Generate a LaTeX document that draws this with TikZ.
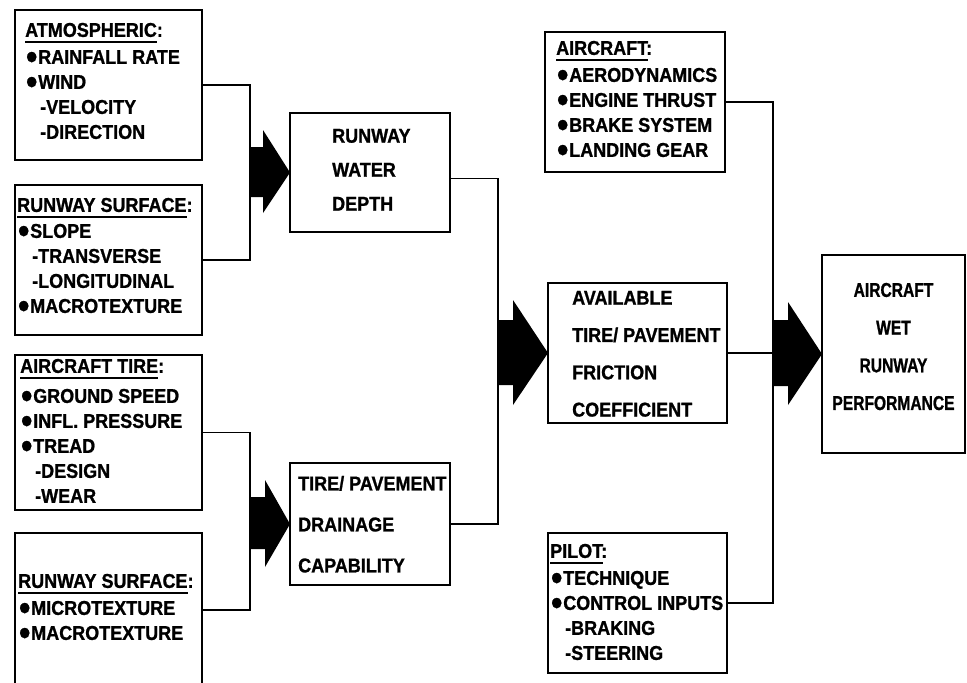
\documentclass[tikz,border=0pt]{standalone}
\usepackage{fontspec}
\setmainfont{Liberation Sans}[FakeStretch=0.9, BoldFeatures={FakeBold=1}]
\newfontfamily\narrowfont{Liberation Sans}[FakeStretch=0.78, BoldFeatures={FakeBold=1}]
\newlength\hdrlen
\newcommand\hdr[1]{\settowidth\hdrlen{#1}\rlap{\rule[-6pt]{\hdrlen}{2.2pt}}#1}
\newcommand\bul{{\fontsize{24}{25}\selectfont●}}
\newcommand\subitm{\hspace*{15pt}-}
\begin{document}
\begin{tikzpicture}[x=1pt,y=-1pt,
  box/.style={draw, line width=2.4pt, inner sep=0, outer sep=0, anchor=north west},
  txt/.style={anchor=north west, inner sep=0, align=left, font=\bfseries\fontsize{20}{25}\selectfont},
  link/.style={line width=1.8pt},
  blk/.style={fill=black}]
\useasboundingbox (0,0) rectangle (967,683);
\clip (0,0) rectangle (967,683);
% boxes
\node[box, minimum width=187pt, minimum height=150pt] (atm) at (15,10) {};
\node[box, minimum width=187pt, minimum height=150pt] (rs1) at (15,185) {};
\node[box, minimum width=187pt, minimum height=155pt] (tire) at (15,355) {};
\node[box, minimum width=187pt, minimum height=154pt] (rs2) at (15,533) {};
\node[box, minimum width=160pt, minimum height=119pt] (rwd) at (290,113) {};
\node[box, minimum width=160pt, minimum height=122pt] (drn) at (290,463) {};
\node[box, minimum width=179pt, minimum height=140pt] (avl) at (548,283) {};
\node[box, minimum width=180pt, minimum height=140pt] (acf) at (545,32) {};
\node[box, minimum width=179pt, minimum height=140pt] (plt) at (548,533) {};
\node[box, minimum width=143pt, minimum height=198pt] (perf) at (822,255) {};
% texts
\node[txt] (tatm) at (25,22.7) {\hdr{ATMOSPHERIC}:\\[2pt]\bul RAINFALL RATE\\\bul WIND\\\subitm VELOCITY\\\subitm DIRECTION};
\node[txt] (trs1) at (17,197.7) {\hdr{RUNWAY SURFACE}:\\[1pt]\bul SLOPE\\\subitm TRANSVERSE\\\subitm LONGITUDINAL\\\bul MACROTEXTURE};
\node[txt] (ttire) at (20,358.7) {\hdr{AIRCRAFT TIRE}:\\[5pt]\bul GROUND SPEED\\\bul INFL. PRESSURE\\\bul TREAD\\\subitm DESIGN\\\subitm WEAR};
\node[txt] (trs2) at (18,573.7) {\hdr{RUNWAY SURFACE}:\\[2pt]\bul MICROTEXTURE\\\bul MACROTEXTURE};
\node[txt] (tacf) at (556,40.7) {\hdr{AIRCRAFT}:\\[2pt]\bul AERODYNAMICS\\\bul ENGINE THRUST\\\bul BRAKE SYSTEM\\\bul LANDING GEAR};
\node[txt] (tplt) at (550,543.7) {\hdr{PILOT}:\\[2pt]\bul TECHNIQUE\\\bul CONTROL INPUTS\\\subitm BRAKING\\\subitm STEERING};
\node[txt, font=\bfseries\fontsize{20}{34}\selectfont] (trwd) at (332,128.7) {RUNWAY\\WATER\\DEPTH};
\node[txt, font=\bfseries\fontsize{20}{41}\selectfont] (tdrn) at (298,475.7) {TIRE/ PAVEMENT\\DRAINAGE\\CAPABILITY};
\node[txt, font=\bfseries\fontsize{20}{37.3}\selectfont] (tavl) at (572,290.7) {AVAILABLE\\TIRE/ PAVEMENT\\FRICTION\\COEFFICIENT};
\node[txt, anchor=north, align=center, font=\narrowfont\bfseries\fontsize{20}{37.7}\selectfont] (tperf) at (893.5,282.7) {AIRCRAFT\\WET\\RUNWAY\\PERFORMANCE};
% junctions
\coordinate (j1) at (250,172.5);
\coordinate (j2) at (250,524);
\coordinate (j3) at (498,353);
\coordinate (j4) at (773,353);
% connectors
\draw[link] (atm.east) -| (j1) |- (rs1.east);
\draw[link] (tire.east) -| (j2) |- (rs2.east);
\draw[link] ([yshift=-6pt]rwd.east) -| (j3) |- (drn.east);
\draw[link] (acf.east) -| (j4) |- (plt.east);
\draw[link] (avl.east) -- (j4 |- avl.east);
% block arrows
\fill[blk] (250,147) -- (263,147) -- (263,130) -- (rwd.west) -- (263,213) -- (263,197) -- (250,197) -- cycle;
\fill[blk] (250,497) -- (265,497) -- (265,480) -- (drn.west) -- (265,567) -- (265,549) -- (250,549) -- cycle;
\fill[blk] (498,320) -- (513,320) -- (513,300) -- (avl.west) -- (513,405) -- (513,385) -- (498,385) -- cycle;
\fill[blk] (773,320) -- (788,320) -- (788,302) -- (perf.west) -- (788,405) -- (788,386) -- (773,386) -- cycle;
\end{tikzpicture}
\end{document}
